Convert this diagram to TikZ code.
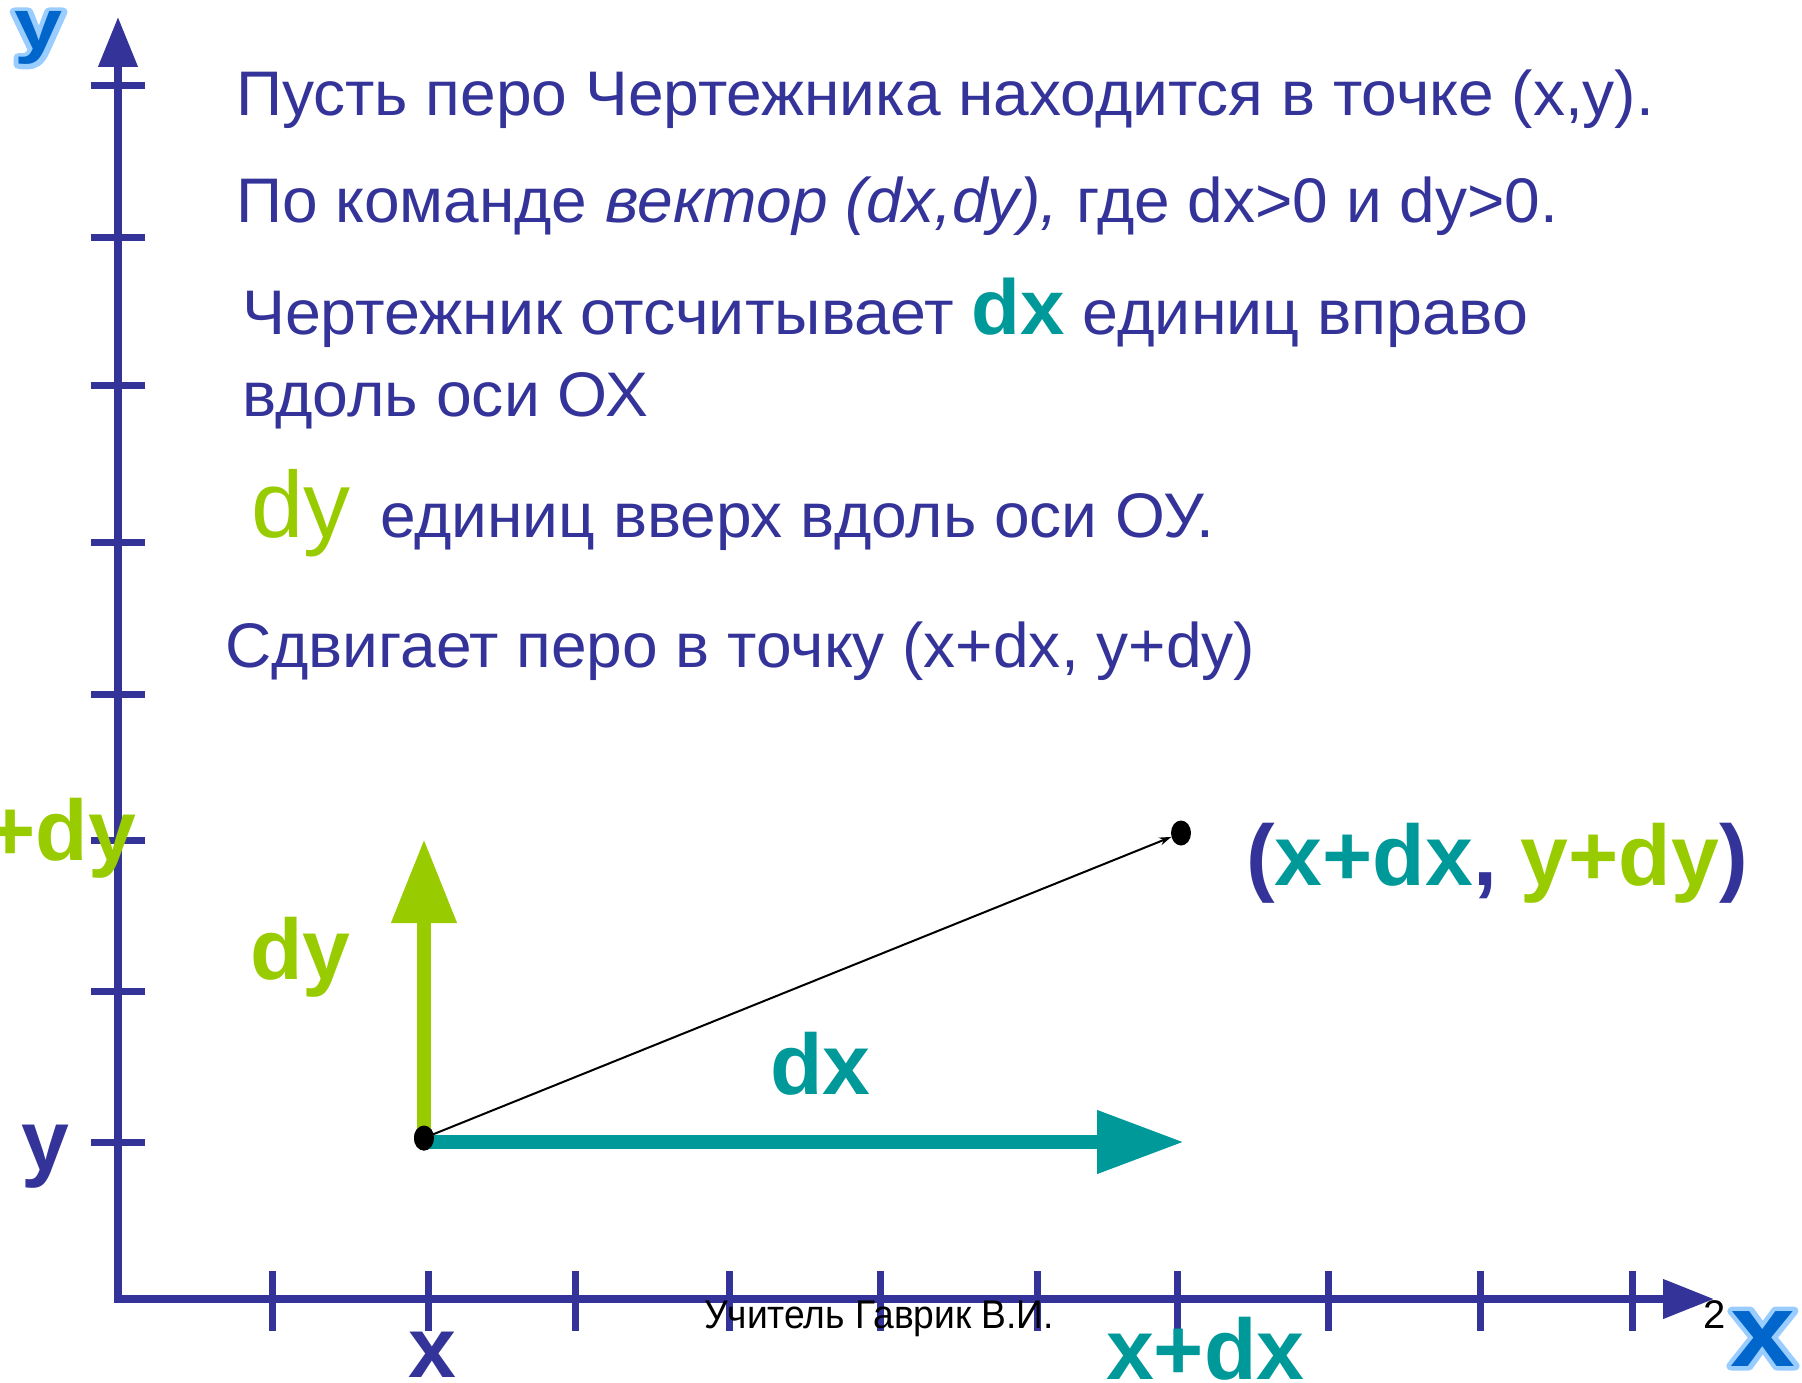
\documentclass[tikz,border=0pt]{standalone}
\usepackage{fontspec}
\setmainfont{Liberation Sans}
\usetikzlibrary{arrows.meta,shapes.geometric}
\definecolor{cblue}{RGB}{51,51,153}
\definecolor{cteal}{RGB}{0,153,153}
\definecolor{cgreen}{RGB}{153,204,0}
\definecolor{clogo}{RGB}{0,102,204}
\definecolor{clight}{RGB}{153,204,255}
\newcommand\myfs[1]{\fontsize{#1pt}{#1pt}\selectfont}
\newcommand\outlined[1]{\special{pdf:literal 1 Tr 9 w 1 j 0.6 0.8 1 RG}\rlap{#1}\special{pdf:literal 0 Tr}#1}
\begin{document}
\begin{tikzpicture}[x=1pt,y=-1pt,
  txt/.style={inner sep=0pt, outer sep=0pt, anchor=base west, text=cblue},
  lbl/.style={inner sep=0pt, outer sep=0pt, font=\myfs{86}\bfseries},
  axline/.style={draw=cblue, line width=7.5pt, line join=miter},
  axtick/.style={draw=cblue, line width=7pt},
  dotnode/.style={ellipse, fill=black, inner sep=0pt, minimum width=20pt, minimum height=25pt},
  logo/.style={inner sep=0pt, outer sep=0pt, anchor=base, text=clogo, font=\bfseries}]
\useasboundingbox (0,0) rectangle (1802,1383);

% axes
\coordinate (org) at (118,1299);
\coordinate (ytip) at (118,17);
\coordinate (xtip) at (1714,1299);
\draw[axline, {Triangle[length=50pt,width=38pt]}-{Triangle[length=51pt,width=38pt]}] (ytip) -- (org) -- (xtip);
\foreach \yy in {86,238,385,542,694,840,991,1142}
  \draw[axtick] (91,\yy) -- (145,\yy);
\foreach \xx in {272,428,575,729,880,1037,1177,1328,1480,1632}
  \draw[axtick] (\xx,1271) -- (\xx,1331);

% text lines
\node[txt] (l1) at (236,116) {\myfs{63}\resizebox{1418pt}{\height}{Пусть перо Чертежника находится в точке (x,y).}};
\node[txt] (l2) at (236,223) {\myfs{63}\resizebox{1322pt}{\height}{По команде \textit{вектор (dx,dy),} где dx>0 и dy>0.}};
\node[txt] (l3) at (242,334) {\myfs{63}\resizebox{1286pt}{\height}{Чертежник отсчитывает {\myfs{78}\bfseries\color{cteal}dx} единиц вправо}};
\node[txt] (l4) at (242,416) {\myfs{63}\resizebox{406pt}{\height}{вдоль оси ОХ}};
\node[txt, text=cgreen] (l5a) at (251,537) {\myfs{94}dy};
\node[txt] (l5b) at (380,537) {\myfs{63}\resizebox{834pt}{\height}{единиц вверх вдоль оси ОУ.}};
\node[txt] (l6) at (225,667) {\myfs{63}\resizebox{1030pt}{\height}{Сдвигает перо в точку (x+dx, y+dy)}};

% footer
\node[txt, text=black] (foot) at (704,1328) {\myfs{40}\resizebox{350pt}{\height}{Учитель Гаврик В.И.}};
\node[txt, text=black] (pnum) at (1703,1328) {\myfs{40}2};

% vectors
\node[dotnode] (O) at (424,1138) {};
\node[dotnode] (T) at (1181,833) {};
\coordinate (gtip) at (424,839);
\coordinate (ttip) at (1184,1142);
\coordinate (tstart) at (424,1142);
\draw[line width=14pt, cgreen, -{Triangle[length=84pt,width=62pt]}] (O.center) -- (gtip);
\draw[line width=14pt, cteal, -{Triangle[length=87pt,width=60pt]}] (tstart) -- (ttip);
\node[dotnode] (O2) at (424,1138) {};
\draw[line width=2pt, -{Stealth[length=12pt,width=8pt]}] (O2.center) -- (T);

% labels
\node[lbl, anchor=base, text=cblue] (xl) at (432,1377) {x};
\node[lbl, anchor=base west, text=cteal] (xdxl) at (1106,1379) {x+dx};
\node[lbl, anchor=base, text=cblue] (yl) at (45,1170) {y};
\node[lbl, anchor=base east, text=cgreen] (ydyl) at (136,860) {+dy};
\node[lbl, anchor=base west, text=cgreen] (dyl) at (250,979) {dy};
\node[lbl, anchor=base west, text=cteal] (dxl) at (770,1094) {dx};
\node[lbl, anchor=base west] (pt) at (1246,885) {{\color{cblue}(}{\color{cteal}x+dx}{\color{cblue},} {\color{cgreen}y+dy}{\color{cblue})}};

% logos
\node[logo] (ylogo) at (38.5,50) {\myfs{72}\scalebox{1.2}[1]{\outlined{y}}};
\node[logo] (xlogo) at (1763,1366) {\myfs{104}\scalebox{1.12}[1]{\outlined{x}}};
\end{tikzpicture}
\end{document}
